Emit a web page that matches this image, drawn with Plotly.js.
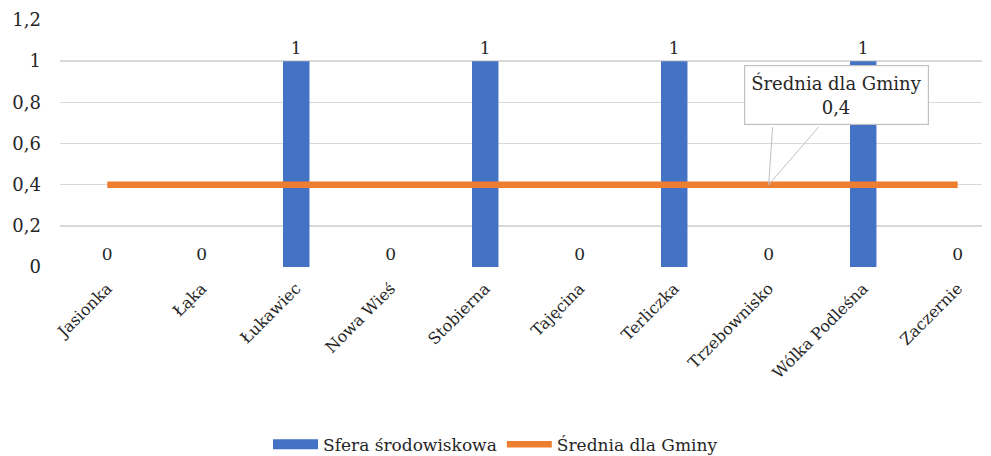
<!DOCTYPE html>
<html>
<head>
<meta charset="utf-8">
<script src="https://cdn.plot.ly/plotly-3.0.1.min.js"></script>
<style>html,body{margin:0;padding:0;background:#fff;}#chart{width:991px;height:456px;}</style>
</head>
<body>
<div id="chart"></div>
<script>
const categories = ["Jasionka","Łąka","Łukawiec","Nowa Wieś","Stobierna","Tajęcina","Terliczka","Trzebownisko","Wólka Podleśna","Zaczernie"];
const sferaValues = [0,0,1,0,1,0,1,0,1,0];
const sredniaValues = [0.4,0.4,0.4,0.4,0.4,0.4,0.4,0.4,0.4,0.4];
const seriesNames = ["Sfera środowiskowa","Średnia dla Gminy"];
const yTicks = [0,0.2,0.4,0.6,0.8,1,1.2];
const calloutIndex = 7;

const FONT = "DejaVu Serif, Liberation Serif, serif";
const txt = "#262626";
const blue = "#4472C4";
const orange = "#ED7D31";
const fmt = v => String(v).replace(".", ",");

const data = [
  {
    type: "bar",
    name: seriesNames[0],
    x: categories,
    y: sferaValues,
    marker: {color: blue},
    text: sferaValues.map(fmt),
    textposition: "outside",
    textfont: {family: FONT, size: 17, color: txt},
    cliponaxis: false,
    showlegend: false,
    hoverinfo: "none"
  },
  {
    // legend entry for the bar series (wide rectangular swatch)
    type: "scatter",
    mode: "lines",
    name: seriesNames[0],
    x: [null],
    y: [null],
    line: {color: blue, width: 11},
    showlegend: true,
    hoverinfo: "none"
  },
  {
    type: "scatter",
    mode: "lines",
    name: seriesNames[1],
    x: categories,
    y: sredniaValues,
    line: {color: orange, width: 6.5},
    hoverinfo: "none"
  }
];

const tailColor = "#c0c0c0";
const layout = {
  width: 991,
  height: 456,
  margin: {l: 60, r: 9, t: 20, b: 189},
  paper_bgcolor: "#fff",
  plot_bgcolor: "#fff",
  separators: ",.",
  font: {family: FONT, size: 17, color: txt},
  bargap: 0.72,
  showlegend: true,
  legend: {
    orientation: "h",
    xref: "container", yref: "container",
    x: 0.5, xanchor: "center",
    y: 0.025, yanchor: "middle",
    font: {family: FONT, size: 17, color: txt},
    itemwidth: 45,
    traceorder: "normal"
  },
  xaxis: {
    type: "category",
    range: [-0.5, 9.257],
    tickangle: -45,
    showgrid: false,
    zeroline: false,
    showline: false,
    ticks: "",
    ticklabelstandoff: 8,
    tickfont: {family: FONT, size: 16, color: txt}
  },
  yaxis: {
    range: [0, 1.2],
    tickvals: yTicks,
    ticktext: yTicks.map(fmt),
    showgrid: true,
    gridcolor: "#d9d9d9",
    gridwidth: 1.5,
    zeroline: false,
    showline: false,
    ticks: "",
    ticklabelstandoff: 18,
    tickfont: {family: FONT, size: 18, color: txt}
  },
  annotations: [
    {
      x: calloutIndex, y: sredniaValues[calloutIndex], xref: "x", yref: "y",
      text: " ", showarrow: true, arrowhead: 0, arrowwidth: 1, arrowcolor: tailColor,
      ax: 4, ay: -60, font: {size: 2}
    },
    {
      x: calloutIndex, y: sredniaValues[calloutIndex], xref: "x", yref: "y",
      text: " ", showarrow: true, arrowhead: 0, arrowwidth: 1, arrowcolor: tailColor,
      ax: 52, ay: -60, font: {size: 2}
    },
    {
      x: calloutIndex, y: sredniaValues[calloutIndex],
      xref: "x", yref: "y",
      text: seriesNames[1] + "<br>" + fmt(sredniaValues[calloutIndex]),
      showarrow: true,
      arrowhead: 0,
      arrowwidth: 0.1,
      arrowcolor: "rgba(0,0,0,0)",
      ax: 68, ay: -90,
      bgcolor: "#fff",
      bordercolor: tailColor,
      borderwidth: 1.2,
      borderpad: 6,
      font: {family: FONT, size: 18, color: txt}
    }
  ]
};

Plotly.newPlot("chart", data, layout, {displayModeBar: false, staticPlot: true});
</script>
</body>
</html>
